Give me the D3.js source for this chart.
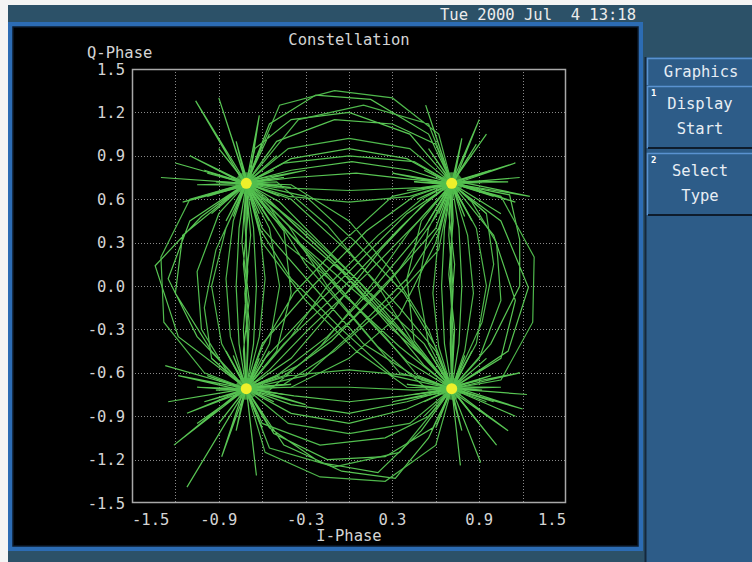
<!DOCTYPE html>
<html><head><meta charset="utf-8">
<script src="https://cdn.jsdelivr.net/npm/d3@7"></script>
<style>
html,body{margin:0;padding:0;background:#f4f4f4;}
svg{display:block;}
text{font-family:"DejaVu Sans Mono",monospace;white-space:pre;}
</style></head>
<body>
<script>
// ---- data ----
const timestamp = "Tue 2000 Jul  4 13:18";
const chartTitle = "Constellation";
const xTitle = "I-Phase";
const yTitle = "Q-Phase";
const menuTitle = "Graphics";
const buttons = [["1","Display","Start"],["2","Select","Type"]];
const xTickValues = [-1.5,-0.9,-0.3,0.3,0.9,1.5];
const xTickLabels = ["-1.5","-0.9","-0.3","0.3","0.9","1.5"];
const yTickValues = [1.5,1.2,0.9,0.6,0.3,0.0,-0.3,-0.6,-0.9,-1.2,-1.5];
const yTickLabels = ["1.5","1.2","0.9","0.6","0.3","0.0","-0.3","-0.6","-0.9","-1.2","-1.5"];
const gridValues = [-1.2,-0.9,-0.6,-0.3,0,0.3,0.6,0.9,1.2];
const symbols = [[-0.71,0.71],[0.71,0.71],[-0.71,-0.71],[0.71,-0.71]];

const trace = [
[-0.71,0.71],[-1.06,1.28],[-0.72,0.70],[-0.48,0.52],[-0.12,0.18],[0.25,-0.22],[0.52,-0.55],[0.71,-0.71],
[1.10,-1.00],[0.70,-0.72],[0.72,-0.35],[0.70,0.0],[0.71,0.38],[0.71,0.71],
[0.55,1.05],[0.15,1.29],[-0.23,1.32],[-0.55,1.12],[-0.71,0.71],
[-1.02,0.48],[-1.34,0.14],[-1.18,-0.35],[-0.72,-0.70],[-1.21,-1.10],[-0.71,-0.71],
[-0.45,-0.40],[-0.05,-0.02],[0.35,0.40],[0.58,0.62],[0.71,0.70],[1.15,0.85],[0.70,0.71],
[1.05,0.45],[1.24,-0.01],[1.10,-0.45],[0.71,-0.71],
[0.55,-1.05],[0.32,-1.33],[-0.05,-1.28],[-0.45,-1.10],[-0.71,-0.71],[-0.64,-1.31],[-0.71,-0.70],
[-0.73,-0.30],[-0.70,0.10],[-0.72,0.45],[-0.71,0.71],[-0.90,1.30],[-0.71,0.72],
[-0.40,0.80],[0.02,0.86],[0.42,0.80],[0.71,0.71],[0.53,1.25],[0.71,0.70],
[0.48,0.45],[0.12,0.08],[-0.28,-0.30],[-0.55,-0.58],[-0.71,-0.71],
[-0.40,-0.82],[0.0,-0.88],[0.40,-0.80],[0.71,-0.71],[0.77,-1.24],[0.71,-0.71],
[0.45,-0.42],[0.05,0.02],[-0.35,0.40],[-0.58,0.62],[-0.71,0.71],[-1.20,0.85],[-0.71,0.71],
[-0.68,0.35],[-0.72,-0.05],[-0.70,-0.42],[-0.71,-0.71],[-1.27,-0.55],[-0.71,-0.71],
[-0.40,-0.50],[-0.10,-0.15],[0.22,0.25],[0.50,0.55],[0.71,0.71],
[0.69,0.35],[0.72,-0.02],[0.70,-0.40],[0.71,-0.71],[1.23,-0.75],[0.71,-0.71],
[0.50,-1.00],[0.20,-1.29],[-0.20,-1.22],[-0.55,-0.98],[-0.71,-0.71],
[-0.95,-0.45],[-1.20,-0.05],[-1.15,0.35],[-0.71,0.71],[-0.55,1.05],[-0.71,0.71],
[-0.42,0.42],[-0.05,0.10],[0.30,-0.30],[0.55,-0.52],[0.71,-0.71],[0.91,-1.22],[0.71,-0.71],
[0.98,-0.40],[1.18,0.00],[1.18,0.32],[1.11,0.63],[0.71,0.71],[1.05,0.50],[0.71,0.71],
[0.42,1.05],[0.0,1.20],[-0.40,1.15],[-0.65,0.95],[-0.71,0.71],
[-0.38,0.75],[0.05,0.78],[0.40,0.74],[0.71,0.71],
[0.40,0.50],[0.05,0.15],[-0.30,-0.20],[-0.58,-0.50],[-0.71,-0.71],[-1.12,-1.39],[-0.71,-0.71],
[-0.52,-1.02],[-0.15,-1.20],[0.25,-1.18],[0.58,-0.98],[0.71,-0.71],
[0.52,-0.40],[0.18,-0.08],[-0.20,0.30],[-0.48,0.58],[-0.71,0.71],
[-0.74,0.30],[-0.69,-0.10],[-0.73,-0.45],[-0.71,-0.71],[-1.05,-0.95],[-0.71,-0.71],
[-0.38,-0.76],[0.00,-0.80],[0.38,-0.76],[0.71,-0.71],
[0.73,-0.30],[0.69,0.08],[0.72,0.45],[0.71,0.71],[0.95,1.05],[0.71,0.71],
[0.52,0.40],[0.20,0.02],[-0.15,-0.35],[-0.50,-0.62],[-0.71,-0.71],
[-1.05,-0.35],[-1.25,0.05],[-1.10,0.45],[-0.71,0.71],
[-0.50,1.00],[-0.10,1.15],[0.30,1.12],[0.60,0.98],[0.71,0.71],
[1.00,0.35],[1.15,-0.10],[1.05,-0.50],[0.71,-0.71],[1.15,-0.90],[0.71,-0.71],
[0.40,-0.52],[0.10,-0.20],[-0.25,0.20],[-0.55,0.50],[-0.71,0.71],[-1.30,0.75],[-0.71,0.71],
[-0.60,0.40],[-0.25,0.0],[0.10,-0.40],[0.45,-0.62],[0.71,-0.71],
[0.40,-0.85],[0.0,-0.95],[-0.40,-0.88],[-0.71,-0.71],[-1.25,-0.80],[-0.71,-0.71],
[-0.60,-0.40],[-0.25,0.0],[0.12,0.38],[0.45,0.62],[0.71,0.71],[1.18,0.75],[0.71,0.71],
[0.40,0.88],[0.0,0.95],[-0.40,0.88],[-0.71,0.71],
[-0.40,0.60],[-0.02,0.25],[0.35,-0.15],[0.60,-0.45],[0.71,-0.71],
[0.70,-0.25],[0.73,0.15],[0.69,0.50],[0.71,0.71],
[0.60,0.40],[0.25,0.0],[-0.12,-0.38],[-0.45,-0.62],[-0.71,-0.71],
[-0.69,-0.25],[-0.73,0.15],[-0.70,0.48],[-0.71,0.71]
];

const trace2 = [
[-0.71,0.71],[-0.85,0.40],[-0.95,0.0],[-0.88,-0.40],[-0.71,-0.71],
[-0.55,-0.40],[-0.48,0.0],[-0.55,0.40],[-0.71,0.71],
[-0.80,0.45],[-0.85,0.05],[-0.82,-0.35],[-0.71,-0.71],
[-0.62,-0.35],[-0.58,0.05],[-0.62,0.42],[-0.71,0.71],
[-0.42,0.95],[0.0,1.02],[0.42,0.95],[0.71,0.71],
[0.88,0.40],[0.95,0.0],[0.88,-0.40],[0.71,-0.71],
[0.55,-0.40],[0.48,0.0],[0.55,0.40],[0.71,0.71],
[0.82,0.35],[0.86,-0.05],[0.80,-0.45],[0.71,-0.71],
[0.62,-0.42],[0.58,-0.05],[0.62,0.35],[0.71,0.71],
[0.50,0.60],[0.20,0.35],[-0.15,0.0],[-0.40,-0.35],[-0.71,-0.71],
[-0.55,-0.72],[-0.20,-0.42],[0.15,0.0],[0.42,0.38],[0.71,0.71],
[0.42,0.62],[0.0,0.58],[-0.42,0.62],[-0.71,0.71],
[-0.50,0.72],[-0.15,0.42],[0.20,0.0],[0.45,-0.40],[0.71,-0.71],
[0.55,-0.72],[0.20,-0.42],[-0.15,0.0],[-0.42,0.42],[-0.71,0.71],
[-1.10,0.60],[-1.30,0.20],[-1.28,-0.25],[-1.00,-0.60],[-0.71,-0.71],
[-0.42,-0.95],[0.0,-1.02],[0.42,-0.95],[0.71,-0.71],
[0.42,-0.62],[0.0,-0.58],[-0.42,-0.62],[-0.71,-0.71],
[-0.45,-0.70],[0.0,-0.70],[0.45,-0.72],[0.71,-0.71],
[1.05,-0.65],[1.27,-0.25],[1.28,0.20],[1.05,0.62],[0.71,0.71],
[0.62,1.05],[0.30,1.30],[-0.10,1.35],[-0.48,1.25],[-0.71,0.71],
[-0.45,0.30],[-0.10,0.02],[0.25,-0.35],[0.50,-0.65],[0.71,-0.71],
[0.60,-1.10],[0.25,-1.35],[-0.20,-1.32],[-0.58,-1.15],[-0.71,-0.71],
[-0.35,-0.55],[0.0,-0.25],[0.35,0.12],[0.60,0.48],[0.71,0.71],
[0.62,0.25],[0.30,-0.10],[-0.10,-0.45],[-0.45,-0.68],[-0.71,-0.71],
[-0.70,-0.35],[-0.71,0.0],[-0.71,0.35],[-0.71,0.71],
[-0.50,0.68],[0.0,0.66],[0.50,0.68],[0.71,0.71],
[0.71,0.35],[0.71,0.0],[0.71,-0.35],[0.71,-0.71],
[0.35,-0.60],[0.05,-0.25],[-0.30,0.15],[-0.55,0.55],[-0.71,0.71],
[-0.92,0.25],[-1.0,-0.15],[-0.95,-0.50],[-0.71,-0.71],
[-0.55,-1.12],[-0.1,-1.25],[0.35,-1.15],[0.71,-0.71],
[0.92,-0.25],[1.00,0.15],[0.95,0.50],[0.71,0.71],
[0.55,1.12],[0.1,1.25],[-0.35,1.15],[-0.71,0.71]
];

const trace3 = [
[-0.71,0.71],[-0.90,0.50],[-1.05,0.10],[-1.02,-0.30],[-0.85,-0.58],[-0.71,-0.71],
[-0.66,-0.40],[-0.64,0.0],[-0.66,0.40],[-0.71,0.71],
[-0.76,0.40],[-0.78,0.0],[-0.76,-0.40],[-0.71,-0.71],
[-0.50,-0.45],[-0.40,-0.05],[-0.45,0.38],[-0.71,0.71],
[-0.30,0.62],[0.05,0.30],[0.38,-0.05],[0.60,-0.42],[0.71,-0.71],
[0.66,-0.40],[0.64,0.0],[0.66,0.40],[0.71,0.71],
[0.76,0.40],[0.78,0.0],[0.76,-0.40],[0.71,-0.71],
[0.90,-0.50],[1.05,-0.10],[1.02,0.30],[0.85,0.58],[0.71,0.71],
[0.30,0.62],[-0.05,0.30],[-0.38,-0.05],[-0.60,-0.42],[-0.71,-0.71],
[-0.30,-0.62],[0.05,-0.30],[0.40,0.05],[0.62,0.40],[0.71,0.71],
[0.50,0.45],[0.40,0.05],[0.45,-0.38],[0.71,-0.71],
[0.30,-0.62],[-0.05,-0.30],[-0.40,0.05],[-0.62,0.40],[-0.71,0.71],
[-0.45,0.85],[0.0,0.90],[0.45,0.86],[0.71,0.71],
[0.60,0.30],[0.35,-0.20],[0.0,-0.50],[-0.40,-0.70],[-0.71,-0.71],
[-0.60,-0.95],[-0.20,-1.10],[0.25,-1.05],[0.55,-0.90],[0.71,-0.71],
[0.40,-0.35],[0.0,0.0],[-0.40,0.35],[-0.71,0.71],
[-0.60,0.30],[-0.30,-0.10],[0.05,-0.45],[0.40,-0.70],[0.71,-0.71],
[0.55,-0.30],[0.30,0.10],[0.0,0.45],[-0.40,0.70],[-0.71,0.71],
[-0.98,0.78],[-0.71,0.71],[-0.50,0.90],[-0.71,0.71],
[-0.40,0.35],[-0.05,-0.05],[0.35,-0.42],[0.71,-0.71],
[0.95,-0.80],[0.71,-0.71],[0.52,-0.90],[0.71,-0.71],
[0.40,-0.35],[0.05,0.05],[-0.35,0.42],[-0.71,0.71]
];

const burstA = [[-1.0,0.80],[-0.98,0.62],[-0.90,0.95],[-0.60,0.98],[-0.45,0.75],[-0.48,0.62],[-0.95,0.50],[-0.85,0.45],[-0.55,0.45],[-1.05,0.70],[-0.40,0.68],[-0.78,1.00],[-0.30,0.80],[-1.10,0.90],[-0.62,1.18],[-0.92,0.72],[-0.52,0.80],[-0.80,0.48],[-0.62,0.50],[-1.15,0.58]];
const burstB = [[0.98,0.80],[1.00,0.62],[0.88,0.98],[0.55,0.95],[0.45,0.72],[0.47,0.60],[0.95,0.50],[0.85,0.45],[0.55,0.45],[1.10,0.72],[0.40,0.66],[0.78,1.02],[1.25,0.62],[0.30,0.78],[0.90,1.15],[0.92,0.72],[0.52,0.80],[0.80,0.48],[0.62,0.50],[1.15,0.58]];
const burstC = [[-1.0,-0.80],[-0.98,-0.62],[-0.90,-0.95],[-0.60,-0.98],[-0.45,-0.75],[-0.48,-0.62],[-0.95,-0.50],[-0.85,-0.45],[-0.55,-0.45],[-1.05,-0.70],[-0.40,-0.68],[-0.78,-1.00],[-1.18,-0.62],[-0.30,-0.82],[-0.88,-1.18],[-0.92,-0.72],[-0.52,-0.80],[-0.80,-0.48],[-0.62,-0.50],[-1.12,-0.88]];
const burstD = [[1.0,-0.80],[0.98,-0.62],[0.90,-0.95],[0.60,-0.98],[0.45,-0.75],[0.48,-0.62],[0.95,-0.50],[0.85,-0.45],[0.55,-0.45],[1.05,-0.70],[0.40,-0.68],[0.78,-1.00],[1.20,-0.85],[0.30,-0.80],[1.02,-1.10],[0.92,-0.72],[0.52,-0.80],[0.80,-0.48],[0.62,-0.50],[1.18,-0.60]];

// ---- drawing ----
const W = 752, H = 562;
const svg = d3.select("body").append("svg").attr("width", W).attr("height", H);
const TEAL = "#2c5168", BLUE = "#2c6cb4", PANEL = "#2d5c88", TXT = "#d4d4d4";

svg.append("rect").attr("x",8).attr("y",5).attr("width",W-8).attr("height",H-5).attr("fill",TEAL);
svg.append("rect").attr("x",8).attr("y",22).attr("width",635).attr("height",529).attr("fill",BLUE);
svg.append("rect").attr("x",13).attr("y",27).attr("width",625).attr("height",519).attr("fill","#000")
  .attr("stroke","#0c1a2a").attr("stroke-width",1.5);

svg.append("text").attr("x",636).attr("y",20).attr("text-anchor","end").attr("xml:space","preserve")
  .attr("fill","#ececec").attr("font-size",15.5).text(timestamp);

// right panel
svg.append("rect").attr("x",645).attr("y",57).attr("width",107).attr("height",H-57).attr("fill",PANEL);
svg.append("line").attr("x1",645.5).attr("x2",645.5).attr("y1",57).attr("y2",H).attr("stroke","#14283c").attr("stroke-width",2);
svg.append("rect").attr("x",647).attr("y",58).attr("width",105).attr("height",27).attr("fill",PANEL);
svg.append("path").attr("d","M647.5,85V58.5H752").attr("fill","none").attr("stroke","#5a92d0").attr("stroke-width",1.5);
svg.append("text").attr("x",701).attr("y",77).attr("text-anchor","middle").attr("fill","#e4ecf4")
  .attr("font-size",15.5).text(menuTitle);
buttons.forEach((b,i) => {
  const y0 = 86 + i*67;
  const g = svg.append("g");
  g.append("rect").attr("x",647).attr("y",y0).attr("width",105).attr("height",62).attr("fill",PANEL);
  g.append("path").attr("d",`M647.5,${y0+62}V${y0+0.5}H752`).attr("fill","none").attr("stroke","#5a92d0").attr("stroke-width",1.5);
  g.append("path").attr("d",`M648,${y0+62}H752`).attr("fill","none").attr("stroke","#0e1c2c").attr("stroke-width",2);
  g.append("text").attr("x",651).attr("y",y0+10).attr("fill","#ffffff").attr("font-size",9).attr("font-weight","bold").text(b[0]);
  g.append("text").attr("x",700).attr("y",y0+23).attr("text-anchor","middle").attr("fill","#e8eef4").attr("font-size",15.5).text(b[1]);
  g.append("text").attr("x",700).attr("y",y0+48).attr("text-anchor","middle").attr("fill","#e8eef4").attr("font-size",15.5).text(b[2]);
});

// plot
const x = d3.scaleLinear().domain([-1.5,1.5]).range([132,566]);
const y = d3.scaleLinear().domain([-1.5,1.5]).range([503,69]);

const grid = svg.append("g").attr("stroke","#8a8a8a").attr("stroke-width",1).attr("stroke-dasharray","1,2");
grid.selectAll(".gx").data(gridValues).join("line")
  .attr("x1",d=>Math.round(x(d))+0.5).attr("x2",d=>Math.round(x(d))+0.5).attr("y1",y(1.5)).attr("y2",y(-1.5));
grid.selectAll(".gy").data(gridValues).join("line")
  .attr("y1",d=>Math.round(y(d))+0.5).attr("y2",d=>Math.round(y(d))+0.5).attr("x1",x(-1.5)).attr("x2",x(1.5));

const line = d3.line().x(d=>x(d[0])).y(d=>y(d[1]));
const traceG = svg.append("g").attr("fill","none").attr("stroke","#58c553").attr("stroke-width",1.2);
traceG.append("path").attr("d", line(trace));
traceG.append("path").attr("d", line(trace2)).attr("stroke","#4fb84c");
traceG.append("path").attr("d", line(trace3)).attr("stroke","#52bf4f");
[[symbols[0],burstA],[symbols[1],burstB],[symbols[2],burstC],[symbols[3],burstD]].forEach(([s,b]) => {
  traceG.selectAll(null).data(b).join("path").attr("d", d => line([s,d,[s[0]+(d[1]-s[1])*0.04, s[1]+(d[0]-s[0])*0.04]]));
});
svg.append("g").selectAll("circle").data(symbols).join("circle")
  .attr("cx",d=>x(d[0])).attr("cy",d=>y(d[1])).attr("r",11).attr("fill","#50bc4c").attr("opacity",0.75);
svg.append("g").selectAll("circle").data(symbols).join("circle")
  .attr("cx",d=>x(d[0])).attr("cy",d=>y(d[1])).attr("r",5.5).attr("fill","#eef02a");

svg.append("rect").attr("x",132.5).attr("y",69.5).attr("width",433).attr("height",433)
  .attr("fill","none").attr("stroke","#a8a8a8").attr("stroke-width",1.5);

svg.append("g").selectAll("text").data(xTickValues).join("text")
  .attr("x",d=>x(d))
  .attr("text-anchor",(d,i)=> i===0 ? "start" : i===xTickValues.length-1 ? "end" : "middle")
  .attr("y",525).attr("fill",TXT).attr("font-size",15.5).text((d,i)=>xTickLabels[i]);
svg.append("g").selectAll("text").data(yTickValues).join("text")
  .attr("x",125).attr("y",d=>y(d)+5.5).attr("text-anchor","end")
  .attr("fill",TXT).attr("font-size",15.5).text((d,i)=>yTickLabels[i]);

svg.append("text").attr("x",349).attr("y",45).attr("text-anchor","middle").attr("fill",TXT).attr("font-size",15.5).text(chartTitle);
svg.append("text").attr("x",87).attr("y",58).attr("fill",TXT).attr("font-size",15.5).text(yTitle);
svg.append("text").attr("x",349).attr("y",541).attr("text-anchor","middle").attr("fill",TXT).attr("font-size",15.5).text(xTitle);
</script>
</body></html>
